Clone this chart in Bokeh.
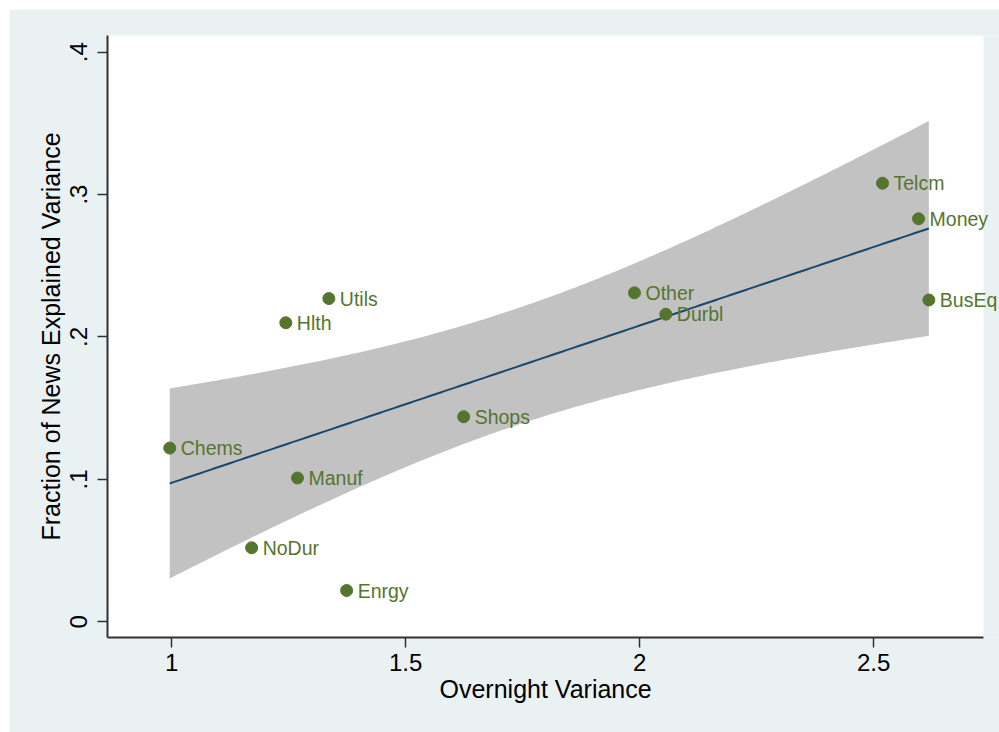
import numpy as np
from bokeh.plotting import figure
from bokeh.models import ColumnDataSource, Label, Range1d, FixedTicker, BoxAnnotation, Title
from bokeh.embed import file_html
from bokeh.resources import INLINE

# Data
industries = ["Chems", "NoDur", "Hlth", "Manuf", "Utils", "Enrgy",
              "Shops", "Other", "Durbl", "Telcm", "Money", "BusEq"]
overnight_var = [0.996, 1.171, 1.244, 1.269, 1.336, 1.374,
                 1.624, 1.989, 2.056, 2.519, 2.596, 2.618]
news_frac = [0.122, 0.052, 0.210, 0.101, 0.227, 0.022,
             0.144, 0.231, 0.216, 0.308, 0.283, 0.226]

x_ticks = [1, 1.5, 2, 2.5]
x_tick_labels = ["1", "1.5", "2", "2.5"]
y_ticks = [0, 0.1, 0.2, 0.3, 0.4]
y_tick_labels = ["0", ".1", ".2", ".3", ".4"]

# plot region extent (data units) and the extra room for labels past it
X_MIN, X_MAX, X_PAD_MAX = 0.863, 2.735, 2.769
Y_MIN, Y_MAX = -0.011, 0.4117

BG = "#EAF1F3"
GREEN = "#55752F"
NAVY = "#1A476F"
BAND = "#C2C2C2"
FONT = "Liberation Sans"

# Linear fit with 95% CI of the mean prediction (Stata lfitci)
x = np.array(overnight_var)
y = np.array(news_frac)
n = len(x)
b1, b0 = np.polyfit(x, y, 1)
resid = y - (b0 + b1 * x)
s = np.sqrt(np.sum(resid ** 2) / (n - 2))
sxx = np.sum((x - x.mean()) ** 2)
t_crit = 2.228  # t(0.975, df=10)
xf = np.linspace(x.min(), x.max(), 200)
yf = b0 + b1 * xf
se = s * np.sqrt(1.0 / n + (xf - x.mean()) ** 2 / sxx)
fit_src = ColumnDataSource(dict(x=xf, y=yf, lo=yf - t_crit * se, hi=yf + t_crit * se))
pts = ColumnDataSource(dict(x=overnight_var, y=news_frac, name=industries))

p = figure(width=990, height=723, output_backend="svg", toolbar_location=None,
           x_range=Range1d(X_MIN, X_PAD_MAX), y_range=Range1d(Y_MIN, Y_MAX),
           min_border_left=98, min_border_right=0, min_border_top=26, min_border_bottom=95)
p.margin = (9, 0, 0, 9)
p.background_fill_color = BG
p.border_fill_color = BG
p.outline_line_color = None

# white plot region
p.add_layout(BoxAnnotation(left=X_MIN, right=X_MAX, bottom=Y_MIN, top=Y_MAX,
                           fill_color="white", fill_alpha=1.0, line_color=None,
                           level="underlay"))

p.varea(x="x", y1="lo", y2="hi", source=fit_src, fill_color=BAND, fill_alpha=1.0)
p.line(x="x", y="y", source=fit_src, line_color=NAVY, line_width=2)
p.scatter(x="x", y="y", source=pts, size=12, fill_color=GREEN, line_color=GREEN)

for xi, yi, name in zip(overnight_var, news_frac, industries):
    p.add_layout(Label(x=xi, y=yi, text=name, x_offset=11, y_offset=0,
                       text_baseline="middle", text_align="left", text_color=GREEN,
                       text_font=FONT, text_font_size="19.5px"))

p.xgrid.visible = False
p.ygrid.ticker = FixedTicker(ticks=y_ticks)
p.ygrid.grid_line_color = BG
p.ygrid.grid_line_width = 2
p.ygrid.level = "underlay"

p.xaxis.ticker = FixedTicker(ticks=x_ticks)
p.xaxis.major_label_overrides = dict(zip(x_ticks, x_tick_labels))
p.xaxis.bounds = (X_MIN, X_MAX)
p.yaxis.ticker = FixedTicker(ticks=y_ticks)
p.yaxis.major_label_overrides = dict(zip(y_ticks, y_tick_labels))
p.yaxis.major_label_orientation = "vertical"

for ax in (p.xaxis[0], p.yaxis[0]):
    ax.axis_line_color = "#303030"
    ax.axis_line_width = 2
    ax.major_tick_line_color = "#303030"
    ax.major_tick_line_width = 1.5
    ax.major_tick_out = 10
    ax.major_tick_in = 0
    ax.minor_tick_line_color = None
    ax.major_label_text_font = FONT
    ax.major_label_text_font_size = "24px"
    ax.major_label_text_color = "black"
    ax.axis_label_text_font = FONT
    ax.axis_label_text_font_size = "25px"
    ax.axis_label_text_font_style = "normal"
    ax.axis_label_text_color = "black"

p.xaxis[0].major_label_standoff = 6
p.yaxis[0].major_label_standoff = 10
p.yaxis[0].axis_label_standoff = 3
p.yaxis.axis_label = "Fraction of News Explained Variance"

# x-axis title centred under the white plot region (not the wider frame)
p.add_layout(Title(text="Overnight Variance", align="left", offset=332,
                   vertical_align="top", standoff=3,
                   text_font=FONT, text_font_size="25px", text_font_style="normal",
                   text_color="black"), "below")

open("out.html", "w").write(file_html(p, INLINE))
